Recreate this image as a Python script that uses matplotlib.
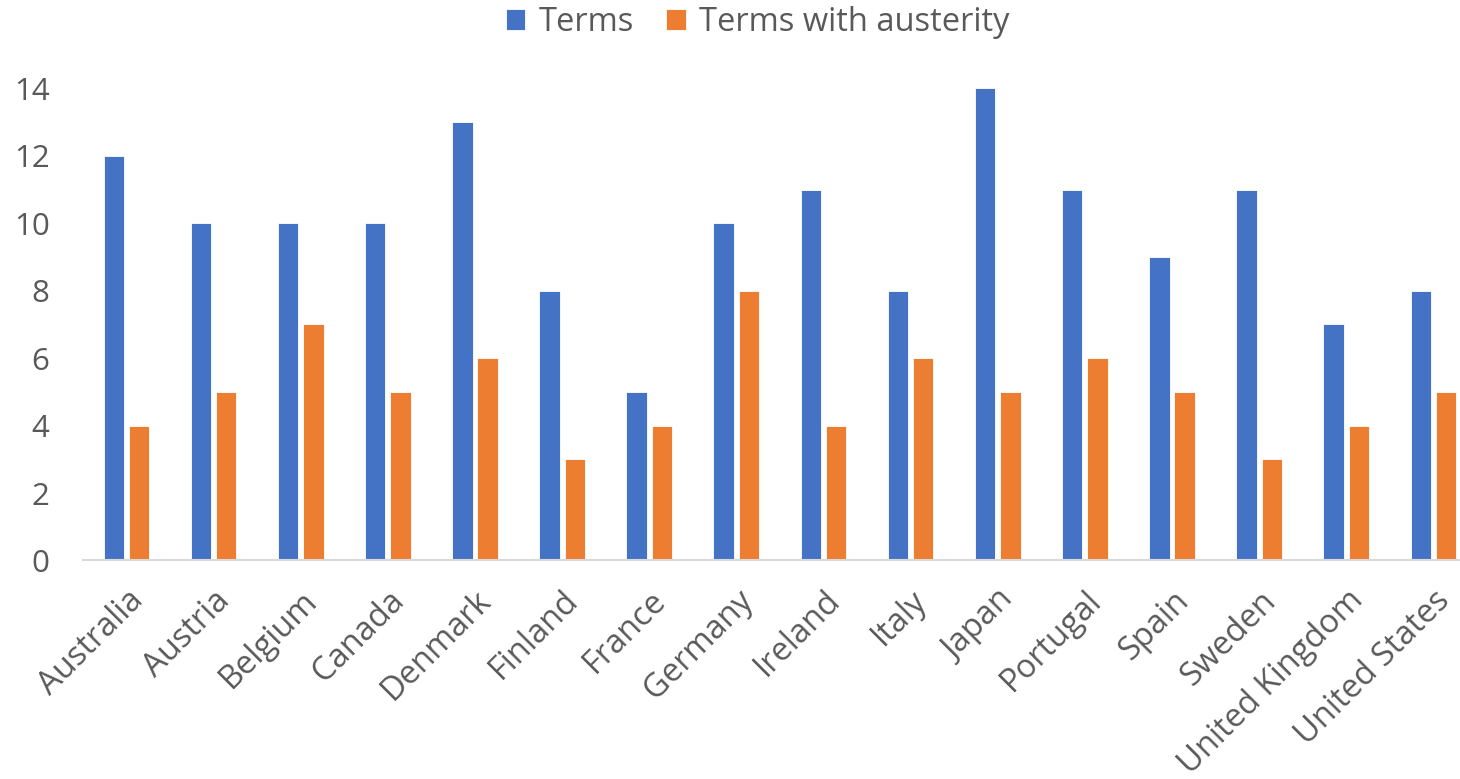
import numpy as np
import matplotlib.pyplot as plt

plt.rcParams["font.family"] = ["Open Sans", "DejaVu Sans"]

countries = ["Australia", "Austria", "Belgium", "Canada", "Denmark", "Finland",
             "France", "Germany", "Ireland", "Italy", "Japan", "Portugal",
             "Spain", "Sweden", "United Kingdom", "United States"]
terms = [12, 10, 10, 10, 13, 8, 5, 10, 11, 8, 14, 11, 9, 11, 7, 8]
terms_austerity = [4, 5, 7, 5, 6, 3, 4, 8, 4, 6, 5, 6, 5, 3, 4, 5]

blue = "#4472C4"
orange = "#ED7D31"
grey_txt = "#595959"

fig = plt.figure(figsize=(14.6, 7.79), dpi=100)
ax = fig.add_axes([0.0568, 0.2805, 0.9548, 0.606])

x = np.arange(len(countries))
w = 0.235
ax.bar(x - 0.145, terms, width=w, color=blue, edgecolor="white", linewidth=0.6,
       label="Terms")
ax.bar(x + 0.145, terms_austerity, width=w, color=orange, edgecolor="white",
       linewidth=0.6, label="Terms with austerity")

ax.set_xlim(-0.5, len(countries) - 0.5)
ax.set_ylim(0, 14)
ax.set_yticks(range(0, 15, 2))
ax.set_xticks(x)
ax.set_xticklabels(countries, rotation=45, ha="right", rotation_mode="anchor")

for s in ["top", "right", "left"]:
    ax.spines[s].set_visible(False)
ax.spines["bottom"].set_color("#D9D9D9")
ax.spines["bottom"].set_linewidth(1.5)
ax.tick_params(axis="both", length=0, labelcolor=grey_txt)
ax.tick_params(axis="y", pad=24, labelsize=22.5)
ax.tick_params(axis="x", pad=17, labelsize=23.5)

fig.legend(loc="center", bbox_to_anchor=(0.519, 0.971), ncol=2, frameon=False,
           fontsize=23.5, labelcolor=grey_txt, handlelength=0.6, handleheight=0.6,
           handletextpad=0.4, columnspacing=1.0)

fig.savefig("out.png", dpi=100)
